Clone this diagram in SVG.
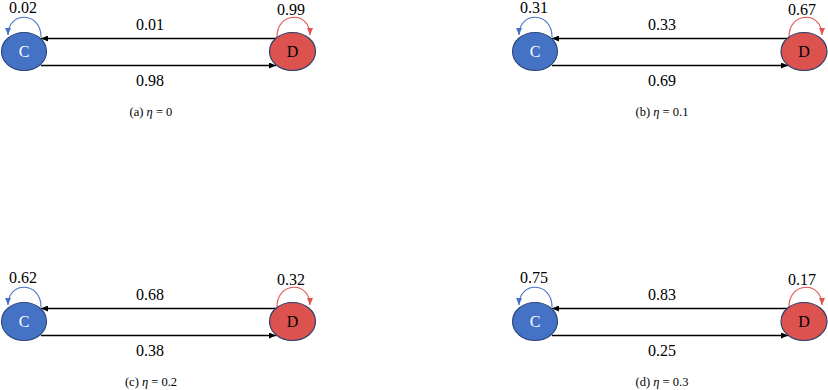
<svg xmlns="http://www.w3.org/2000/svg" width="828" height="390" viewBox="0 0 828 390">
<defs>
<marker id="ab" markerUnits="userSpaceOnUse" markerWidth="8" markerHeight="6" refX="7" refY="3" orient="auto"><path d="M0,0 L7,3 L0,6 z" fill="#000"/></marker>
<marker id="abl" markerUnits="userSpaceOnUse" markerWidth="8" markerHeight="6" refX="7" refY="3" orient="auto"><path d="M0,0 L7,3 L0,6 z" fill="#4472C4"/></marker>
<marker id="ar" markerUnits="userSpaceOnUse" markerWidth="8" markerHeight="6" refX="7" refY="3" orient="auto"><path d="M0,0 L7,3 L0,6 z" fill="#E0524C"/></marker>
</defs>
<style>
text{font-family:"Liberation Serif","Times New Roman",serif}
.c{fill:#4472C4;stroke:#2F4A80;stroke-width:1.2}
.d{fill:#DB524E;stroke:#2F3F6A;stroke-width:1.2}
.nl{font-size:16px;text-anchor:middle}
.lb{font-size:16px;text-anchor:middle;fill:#000}
.cap{font-size:12.5px;text-anchor:middle;fill:#000}
.e{stroke:#000;stroke-width:1.3;fill:none;marker-end:url(#ab)}
.lc{stroke:#4472C4;stroke-width:1.1;fill:none;marker-end:url(#abl)}
.ld{stroke:#E0524C;stroke-width:1.1;fill:none;marker-end:url(#ar)}
</style>

<g id="connectors">
<path class="e" d="M276,38.5 L41,38.5"/>
<path class="e" d="M41,65.5 L276,65.5"/>
<path class="lc" d="M41,37 C41,11 8,11 8,35"/>
<path class="ld" d="M277,37 C277,11 310,11 310,35"/>
<path class="e" d="M788,38.5 L552,38.5"/>
<path class="e" d="M552,65.5 L788,65.5"/>
<path class="lc" d="M552,37 C552,11 519,11 519,35"/>
<path class="ld" d="M789,37 C789,11 822,11 822,35"/>
<path class="e" d="M276,308.5 L41,308.5"/>
<path class="e" d="M41,335.5 L276,335.5"/>
<path class="lc" d="M41,307 C41,281 8,281 8,305"/>
<path class="ld" d="M277,307 C277,281 310,281 310,305"/>
<path class="e" d="M788,308.5 L552,308.5"/>
<path class="e" d="M552,335.5 L788,335.5"/>
<path class="lc" d="M552,307 C552,281 519,281 519,305"/>
<path class="ld" d="M789,307 C789,281 822,281 822,305"/>
</g>

<g id="Ca"><ellipse class="c" cx="24" cy="51.5" rx="22.5" ry="19"/><text class="nl" x="24" y="57" fill="#fff">C</text></g>
<g id="Da"><ellipse class="d" cx="292.5" cy="51.5" rx="23" ry="19"/><text class="nl" x="292.5" y="57" fill="#000">D</text></g>
<g id="Cb"><ellipse class="c" cx="535" cy="51.5" rx="22.5" ry="19"/><text class="nl" x="535" y="57" fill="#fff">C</text></g>
<g id="Db"><ellipse class="d" cx="804" cy="51.5" rx="23" ry="19"/><text class="nl" x="804" y="57" fill="#000">D</text></g>
<g id="Cc"><ellipse class="c" cx="24" cy="321.5" rx="22.5" ry="19"/><text class="nl" x="24" y="327" fill="#fff">C</text></g>
<g id="Dc"><ellipse class="d" cx="292.5" cy="321.5" rx="23" ry="19"/><text class="nl" x="292.5" y="327" fill="#000">D</text></g>
<g id="Cd"><ellipse class="c" cx="535" cy="321.5" rx="22.5" ry="19"/><text class="nl" x="535" y="327" fill="#fff">C</text></g>
<g id="Dd"><ellipse class="d" cx="804" cy="321.5" rx="23" ry="19"/><text class="nl" x="804" y="327" fill="#000">D</text></g>

<g id="labels">
<text class="lb" x="23" y="12.5">0.02</text>
<text class="lb" x="291" y="15">0.99</text>
<text class="lb" x="150" y="29.5">0.01</text>
<text class="lb" x="150" y="86">0.98</text>
<text class="cap" x="151" y="116">(a)  <tspan font-style="italic">η</tspan> = 0</text>

<text class="lb" x="534" y="12.5">0.31</text>
<text class="lb" x="802" y="15">0.67</text>
<text class="lb" x="662" y="29.5">0.33</text>
<text class="lb" x="662" y="86">0.69</text>
<text class="cap" x="662" y="116">(b)  <tspan font-style="italic">η</tspan> = 0.1</text>

<text class="lb" x="23" y="282.5">0.62</text>
<text class="lb" x="291" y="285">0.32</text>
<text class="lb" x="150" y="299.5">0.68</text>
<text class="lb" x="150" y="356">0.38</text>
<text class="cap" x="151" y="386">(c)  <tspan font-style="italic">η</tspan> = 0.2</text>

<text class="lb" x="534" y="282.5">0.75</text>
<text class="lb" x="802" y="285">0.17</text>
<text class="lb" x="662" y="299.5">0.83</text>
<text class="lb" x="662" y="356">0.25</text>
<text class="cap" x="662" y="386">(d)  <tspan font-style="italic">η</tspan> = 0.3</text>
</g>
</svg>
